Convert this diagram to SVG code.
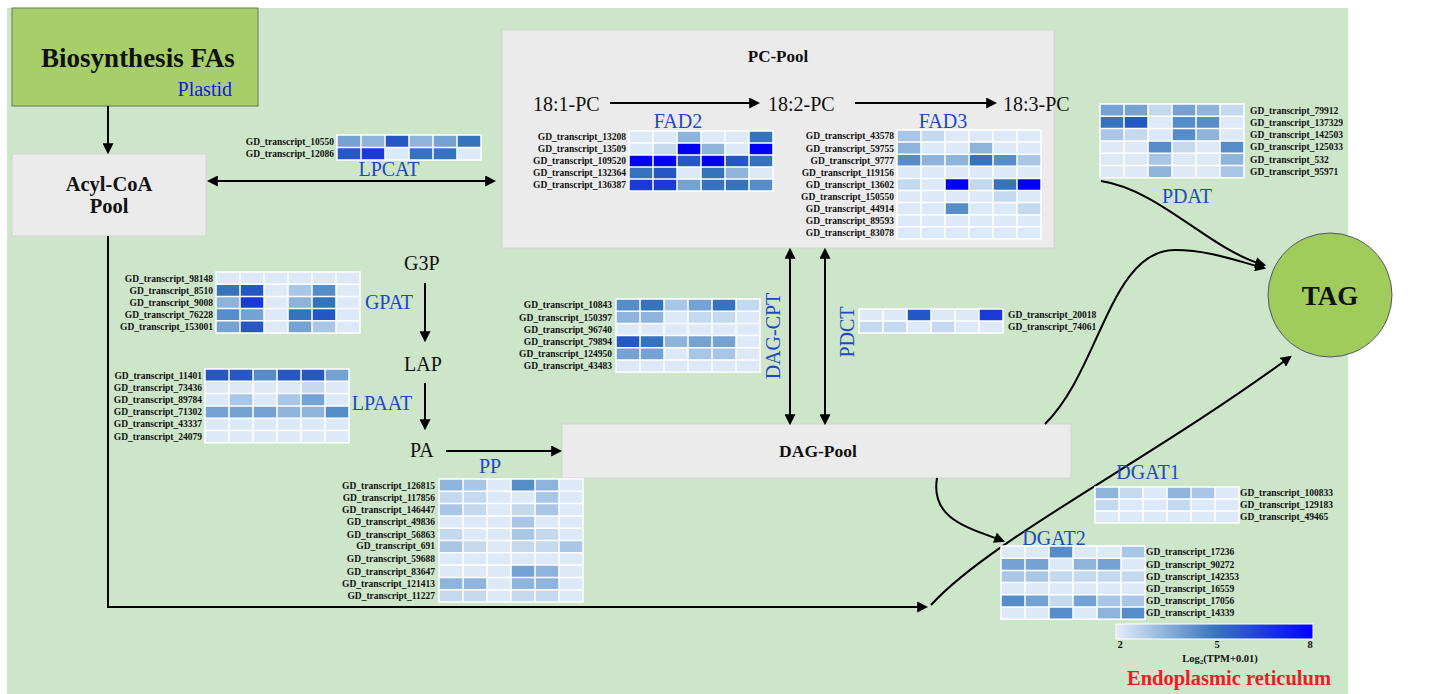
<svg xmlns="http://www.w3.org/2000/svg" width="1442" height="694" viewBox="0 0 1442 694">
<style>
  .lbl{font-family:"Liberation Serif","Times New Roman",serif;font-weight:bold;font-size:9.5px;fill:#111}
  .enz{font-family:"Liberation Serif","Times New Roman",serif;font-size:20px;fill:#1d48c8}
  .met{font-family:"Liberation Serif","Times New Roman",serif;font-size:20px;fill:#111}
  .ttl{font-family:"Liberation Serif","Times New Roman",serif;font-weight:bold;fill:#111}
  .pool{fill:#ebebeb;stroke:#d4d4d4;stroke-width:1}
  .arr{fill:none;stroke:#000;stroke-width:2}
  .grid{fill:none;stroke:#fff;stroke-width:1.5}
  .c0{fill:#dde9f6}.c1{fill:#c4d8ee}.c2{fill:#a9c6e6}.c3{fill:#8fb4dc}.c4{fill:#74a2d3}
  .c5{fill:#568dc8}.c6{fill:#3573bd}.c7{fill:#2558c4}.c8{fill:#1a3ad8}.c9{fill:#0000f5}
</style>
<defs>
  <marker id="ah" viewBox="0 0 10 10" refX="8" refY="5" markerWidth="11" markerHeight="11" markerUnits="userSpaceOnUse" orient="auto-start-reverse">
    <path d="M0,0L10,5L0,10z" fill="#000"/>
  </marker>
  <linearGradient id="scale" x1="0" y1="0" x2="1" y2="0">
    <stop offset="0" stop-color="#e4eef8"/>
    <stop offset="0.5" stop-color="#3a75bf"/>
    <stop offset="1" stop-color="#0000ff"/>
  </linearGradient>
</defs>

<!-- cell compartment -->
<rect x="7" y="8" width="1341" height="686" fill="#cde5c9"/>

<!-- plastid -->
<g id="plastid">
  <rect x="12" y="8" width="246" height="98" fill="#a7cf69" stroke="#66785a" stroke-width="1"/>
  <text class="ttl" x="138" y="67" font-size="27" text-anchor="middle">Biosynthesis FAs</text>
  <text x="232" y="96" font-family="Liberation Serif, serif" font-size="20" fill="#1515f0" text-anchor="end">Plastid</text>
</g>

<g id="acyl-coa">
  <rect class="pool" x="12" y="154" width="194" height="82"/>
  <text class="ttl" x="109" y="191" font-size="20.5" text-anchor="middle">Acyl-CoA</text>
  <text class="ttl" x="109" y="213" font-size="20.5" text-anchor="middle">Pool</text>
</g>

<g id="pc-pool">
  <rect class="pool" x="502" y="30" width="552" height="218"/>
  <text class="ttl" x="778" y="62" font-size="17" text-anchor="middle">PC-Pool</text>
  <text class="met" x="533" y="111">18:1-PC</text>
  <text class="met" x="768" y="111">18:2-PC</text>
  <text class="met" x="1003" y="111">18:3-PC</text>
</g>

<g id="dag-pool">
  <rect class="pool" x="562" y="424" width="509" height="54"/>
  <text class="ttl" x="818" y="457" font-size="17.5" text-anchor="middle">DAG-Pool</text>
</g>

<g id="tag">
  <circle cx="1330" cy="295" r="62" fill="#a0cc5c" stroke="#55556a" stroke-width="1"/>
  <text class="ttl" x="1330" y="305" font-size="27" text-anchor="middle">TAG</text>
</g>

<g id="g3p"><text class="met" x="404" y="270">G3P</text></g>
<g id="lap"><text class="met" x="404" y="371">LAP</text></g>
<g id="pa"><text class="met" x="410" y="457">PA</text></g>

<!-- connectors -->
<g id="connectors">
  <path class="arr" d="M108,106V152" marker-end="url(#ah)"/>
  <path class="arr" d="M209,181H494" marker-start="url(#ah)" marker-end="url(#ah)"/>
  <path class="arr" d="M610,103H758" marker-end="url(#ah)"/>
  <path class="arr" d="M855,103H995" marker-end="url(#ah)"/>
  <path class="arr" d="M425,283V340" marker-end="url(#ah)"/>
  <path class="arr" d="M425,383V428" marker-end="url(#ah)"/>
  <path class="arr" d="M446,451H560" marker-end="url(#ah)"/>
  <path class="arr" d="M790,250V423" marker-start="url(#ah)" marker-end="url(#ah)"/>
  <path class="arr" d="M825,250V423" marker-start="url(#ah)" marker-end="url(#ah)"/>
  <path class="arr" d="M108,236V607H926" marker-end="url(#ah)"/>
  <path class="arr" d="M931,605C990,540 1150,460 1290,357" marker-end="url(#ah)"/>
  <path class="arr" d="M1045,424C1100,370 1110,250 1175,250C1210,250 1240,262 1264,268" marker-end="url(#ah)"/>
  <path class="arr" d="M1101,181C1160,190 1210,250 1264,265" marker-end="url(#ah)"/>
  <path class="arr" d="M937,478C930,520 970,528 1003,541" marker-end="url(#ah)"/>
</g>

<!-- LPCAT -->
<g id="lpcat">
  <text class="enz" x="389" y="176" text-anchor="middle">LPCAT</text>
  <g transform="translate(337,135)">
    <rect class="c0" width="144" height="25"/>
    <rect class="c4" x="0" y="0" width="24" height="12.5"/><rect class="c3" x="24" y="0" width="24" height="12.5"/><rect class="c7" x="48" y="0" width="24" height="12.5"/><rect class="c3" x="72" y="0" width="24" height="12.5"/><rect class="c4" x="96" y="0" width="24" height="12.5"/><rect class="c6" x="120" y="0" width="24" height="12.5"/>
    <rect class="c7" x="0" y="12.5" width="24" height="12.5"/><rect class="c8" x="24" y="12.5" width="24" height="12.5"/><rect class="c6" x="72" y="12.5" width="24" height="12.5"/><rect class="c6" x="96" y="12.5" width="24" height="12.5"/>
    <path class="grid" d="M0,0H144V25H0ZM24,0V25M48,0V25M72,0V25M96,0V25M120,0V25M0,12.5H144"/>
  </g>
  <g class="lbl" text-anchor="end">
    <text x="334" y="144.5">GD_transcript_10550</text>
    <text x="334" y="157">GD_transcript_12086</text>
  </g>
</g>

<!-- FAD2 -->
<g id="fad2">
  <text class="enz" x="678" y="128" text-anchor="middle">FAD2</text>
  <g transform="translate(629,131)">
    <rect class="c0" width="144" height="60"/>
    <rect class="c3" x="48" y="0" width="24" height="12"/><rect class="c6" x="120" y="0" width="24" height="12"/>
    <rect class="c1" x="24" y="12" width="24" height="12"/><rect class="c9" x="48" y="12" width="24" height="12"/><rect class="c3" x="72" y="12" width="24" height="12"/><rect class="c9" x="120" y="12" width="24" height="12"/>
    <rect class="c9" x="0" y="24" width="24" height="12"/><rect class="c9" x="24" y="24" width="24" height="12"/><rect class="c7" x="48" y="24" width="24" height="12"/><rect class="c9" x="72" y="24" width="24" height="12"/><rect class="c7" x="96" y="24" width="24" height="12"/><rect class="c6" x="120" y="24" width="24" height="12"/>
    <rect class="c6" x="0" y="36" width="24" height="12"/><rect class="c7" x="24" y="36" width="24" height="12"/><rect class="c6" x="72" y="36" width="24" height="12"/><rect class="c3" x="96" y="36" width="24" height="12"/>
    <rect class="c8" x="0" y="48" width="24" height="12"/><rect class="c8" x="24" y="48" width="24" height="12"/><rect class="c4" x="48" y="48" width="24" height="12"/><rect class="c6" x="72" y="48" width="24" height="12"/><rect class="c6" x="96" y="48" width="24" height="12"/><rect class="c5" x="120" y="48" width="24" height="12"/>
    <path class="grid" d="M0,0H144V60H0ZM24,0V60M48,0V60M72,0V60M96,0V60M120,0V60M0,12H144M0,24H144M0,36H144M0,48H144"/>
  </g>
  <g class="lbl" text-anchor="end">
    <text x="626" y="140.3">GD_transcript_13208</text>
    <text x="626" y="152.3">GD_transcript_13509</text>
    <text x="626" y="164.3">GD_transcript_109520</text>
    <text x="626" y="176.3">GD_transcript_132364</text>
    <text x="626" y="188.3">GD_transcript_136387</text>
  </g>
</g>

<!-- FAD3 -->
<g id="fad3">
  <text class="enz" x="943" y="128" text-anchor="middle">FAD3</text>
  <g transform="translate(897,130)">
    <rect class="c0" width="144" height="108.9"/>
    <rect class="c2" x="0" y="0" width="24" height="12.1"/><rect class="c1" x="24" y="0" width="24" height="12.1"/>
    <rect class="c3" x="0" y="12.1" width="24" height="12.1"/><rect class="c3" x="72" y="12.1" width="24" height="12.1"/>
    <rect class="c5" x="0" y="24.2" width="24" height="12.1"/><rect class="c3" x="24" y="24.2" width="24" height="12.1"/><rect class="c3" x="48" y="24.2" width="24" height="12.1"/><rect class="c6" x="72" y="24.2" width="24" height="12.1"/><rect class="c5" x="96" y="24.2" width="24" height="12.1"/><rect class="c2" x="120" y="24.2" width="24" height="12.1"/>
    <rect class="c1" x="0" y="48.4" width="24" height="12.1"/><rect class="c9" x="48" y="48.4" width="24" height="12.1"/><rect class="c1" x="72" y="48.4" width="24" height="12.1"/><rect class="c6" x="96" y="48.4" width="24" height="12.1"/><rect class="c9" x="120" y="48.4" width="24" height="12.1"/>
    <rect class="c1" x="96" y="60.5" width="24" height="12.1"/>
    <rect class="c5" x="48" y="72.6" width="24" height="12.1"/><rect class="c1" x="120" y="72.6" width="24" height="12.1"/>
    <path class="grid" d="M0,0H144V108.9H0ZM24,0V108.9M48,0V108.9M72,0V108.9M96,0V108.9M120,0V108.9M0,12.1H144M0,24.2H144M0,36.3H144M0,48.4H144M0,60.5H144M0,72.6H144M0,84.7H144M0,96.8H144"/>
  </g>
  <g class="lbl" text-anchor="end">
    <text x="894" y="139.4">GD_transcript_43578</text>
    <text x="894" y="151.5">GD_transcript_59755</text>
    <text x="894" y="163.6">GD_transcript_9777</text>
    <text x="894" y="175.7">GD_transcript_119156</text>
    <text x="894" y="187.8">GD_transcript_13602</text>
    <text x="894" y="199.9">GD_transcript_150550</text>
    <text x="894" y="212">GD_transcript_44914</text>
    <text x="894" y="224.1">GD_transcript_89593</text>
    <text x="894" y="236.2">GD_transcript_83078</text>
  </g>
</g>

<!-- PDAT -->
<g id="pdat">
  <text class="enz" x="1187" y="203" text-anchor="middle">PDAT</text>
  <g transform="translate(1100,104)">
    <rect class="c0" width="144" height="73.8"/>
    <rect class="c4" x="0" y="0" width="24" height="12.3"/><rect class="c4" x="24" y="0" width="24" height="12.3"/><rect class="c1" x="48" y="0" width="24" height="12.3"/><rect class="c4" x="72" y="0" width="24" height="12.3"/><rect class="c3" x="96" y="0" width="24" height="12.3"/><rect class="c1" x="120" y="0" width="24" height="12.3"/>
    <rect class="c6" x="0" y="12.3" width="24" height="12.3"/><rect class="c7" x="24" y="12.3" width="24" height="12.3"/><rect class="c5" x="72" y="12.3" width="24" height="12.3"/><rect class="c5" x="96" y="12.3" width="24" height="12.3"/>
    <rect class="c2" x="0" y="24.6" width="24" height="12.3"/><rect class="c1" x="24" y="24.6" width="24" height="12.3"/><rect class="c5" x="72" y="24.6" width="24" height="12.3"/><rect class="c3" x="96" y="24.6" width="24" height="12.3"/>
    <rect class="c5" x="48" y="36.9" width="24" height="12.3"/><rect class="c1" x="72" y="36.9" width="24" height="12.3"/><rect class="c5" x="120" y="36.9" width="24" height="12.3"/>
    <rect class="c2" x="48" y="49.2" width="24" height="12.3"/><rect class="c3" x="120" y="49.2" width="24" height="12.3"/>
    <rect class="c3" x="48" y="61.5" width="24" height="12.3"/><rect class="c2" x="120" y="61.5" width="24" height="12.3"/>
    <path class="grid" d="M0,0H144V73.8H0ZM24,0V73.8M48,0V73.8M72,0V73.8M96,0V73.8M120,0V73.8M0,12.3H144M0,24.6H144M0,36.9H144M0,49.2H144M0,61.5H144"/>
  </g>
  <g class="lbl">
    <text x="1250" y="113.5">GD_transcript_79912</text>
    <text x="1250" y="125.8">GD_transcript_137329</text>
    <text x="1250" y="138.1">GD_transcript_142503</text>
    <text x="1250" y="150.4">GD_transcript_125033</text>
    <text x="1250" y="162.7">GD_transcript_532</text>
    <text x="1250" y="175">GD_transcript_95971</text>
  </g>
</g>

<!-- GPAT -->
<g id="gpat">
  <text class="enz" x="389" y="309" text-anchor="middle">GPAT</text>
  <g transform="translate(216,272)">
    <rect class="c0" width="144" height="61"/>
    <rect class="c6" x="0" y="12.2" width="24" height="12.2"/><rect class="c7" x="24" y="12.2" width="24" height="12.2"/><rect class="c2" x="72" y="12.2" width="24" height="12.2"/><rect class="c5" x="96" y="12.2" width="24" height="12.2"/>
    <rect class="c3" x="0" y="24.4" width="24" height="12.2"/><rect class="c8" x="24" y="24.4" width="24" height="12.2"/><rect class="c3" x="72" y="24.4" width="24" height="12.2"/><rect class="c6" x="96" y="24.4" width="24" height="12.2"/>
    <rect class="c5" x="0" y="36.6" width="24" height="12.2"/><rect class="c4" x="24" y="36.6" width="24" height="12.2"/><rect class="c6" x="72" y="36.6" width="24" height="12.2"/><rect class="c7" x="96" y="36.6" width="24" height="12.2"/>
    <rect class="c4" x="0" y="48.8" width="24" height="12.2"/><rect class="c7" x="24" y="48.8" width="24" height="12.2"/><rect class="c4" x="72" y="48.8" width="24" height="12.2"/><rect class="c2" x="96" y="48.8" width="24" height="12.2"/>
    <path class="grid" d="M0,0H144V61H0ZM24,0V61M48,0V61M72,0V61M96,0V61M120,0V61M0,12.2H144M0,24.4H144M0,36.6H144M0,48.8H144"/>
  </g>
  <g class="lbl" text-anchor="end">
    <text x="213" y="282">GD_transcript_98148</text>
    <text x="213" y="293.6">GD_transcript_8510</text>
    <text x="213" y="305.8">GD_transcript_9008</text>
    <text x="213" y="318">GD_transcript_76228</text>
    <text x="213" y="330.2">GD_transcript_153001</text>
  </g>
</g>

<!-- LPAAT -->
<g id="lpaat">
  <text class="enz" x="382" y="410" text-anchor="middle">LPAAT</text>
  <g transform="translate(205,369)">
    <rect class="c0" width="144" height="73.8"/>
    <rect class="c7" x="0" y="0" width="24" height="12.3"/><rect class="c7" x="24" y="0" width="24" height="12.3"/><rect class="c5" x="48" y="0" width="24" height="12.3"/><rect class="c7" x="72" y="0" width="24" height="12.3"/><rect class="c7" x="96" y="0" width="24" height="12.3"/><rect class="c4" x="120" y="0" width="24" height="12.3"/>
    <rect class="c1" x="96" y="12.3" width="24" height="12.3"/>
    <rect class="c2" x="24" y="24.6" width="24" height="12.3"/><rect class="c2" x="72" y="24.6" width="24" height="12.3"/><rect class="c4" x="96" y="24.6" width="24" height="12.3"/>
    <rect class="c4" x="0" y="36.9" width="24" height="12.3"/><rect class="c4" x="24" y="36.9" width="24" height="12.3"/><rect class="c4" x="48" y="36.9" width="24" height="12.3"/><rect class="c3" x="72" y="36.9" width="24" height="12.3"/><rect class="c3" x="96" y="36.9" width="24" height="12.3"/><rect class="c5" x="120" y="36.9" width="24" height="12.3"/>
    <path class="grid" d="M0,0H144V73.8H0ZM24,0V73.8M48,0V73.8M72,0V73.8M96,0V73.8M120,0V73.8M0,12.3H144M0,24.6H144M0,36.9H144M0,49.2H144M0,61.5H144"/>
  </g>
  <g class="lbl" text-anchor="end">
    <text x="202" y="378.5">GD_transcript_11401</text>
    <text x="202" y="390.8">GD_transcript_73436</text>
    <text x="202" y="402.5">GD_transcript_89784</text>
    <text x="202" y="415.4">GD_transcript_71302</text>
    <text x="202" y="426.5">GD_transcript_43337</text>
    <text x="202" y="440">GD_transcript_24079</text>
  </g>
</g>

<!-- DAG-CPT -->
<g id="dag-cpt">
  <text class="enz" x="0" y="0" font-size="19" text-anchor="middle" transform="translate(780,336) rotate(-90)">DAG-CPT</text>
  <g transform="translate(616,299)">
    <rect class="c0" width="144" height="73.2"/>
    <rect class="c5" x="0" y="0" width="24" height="12.2"/><rect class="c6" x="24" y="0" width="24" height="12.2"/><rect class="c2" x="48" y="0" width="24" height="12.2"/><rect class="c4" x="72" y="0" width="24" height="12.2"/><rect class="c6" x="96" y="0" width="24" height="12.2"/><rect class="c1" x="120" y="0" width="24" height="12.2"/>
    <rect class="c3" x="0" y="12.2" width="24" height="12.2"/><rect class="c3" x="24" y="12.2" width="24" height="12.2"/><rect class="c1" x="72" y="12.2" width="24" height="12.2"/><rect class="c1" x="96" y="12.2" width="24" height="12.2"/>
    <rect class="c7" x="0" y="36.6" width="24" height="12.2"/><rect class="c6" x="24" y="36.6" width="24" height="12.2"/><rect class="c3" x="48" y="36.6" width="24" height="12.2"/><rect class="c4" x="72" y="36.6" width="24" height="12.2"/><rect class="c4" x="96" y="36.6" width="24" height="12.2"/>
    <rect class="c4" x="0" y="48.8" width="24" height="12.2"/><rect class="c4" x="24" y="48.8" width="24" height="12.2"/><rect class="c2" x="72" y="48.8" width="24" height="12.2"/><rect class="c2" x="96" y="48.8" width="24" height="12.2"/>
    <path class="grid" d="M0,0H144V73.2H0ZM24,0V73.2M48,0V73.2M72,0V73.2M96,0V73.2M120,0V73.2M0,12.2H144M0,24.4H144M0,36.6H144M0,48.8H144M0,61H144"/>
  </g>
  <g class="lbl" text-anchor="end">
    <text x="612" y="308.4">GD_transcript_10843</text>
    <text x="612" y="320.6">GD_transcript_150397</text>
    <text x="612" y="332.8">GD_transcript_96740</text>
    <text x="612" y="345">GD_transcript_79894</text>
    <text x="612" y="357.2">GD_transcript_124950</text>
    <text x="612" y="369.4">GD_transcript_43483</text>
  </g>
</g>

<!-- PDCT -->
<g id="pdct">
  <text class="enz" x="0" y="0" font-size="21" text-anchor="middle" transform="translate(854,332) rotate(-90)">PDCT</text>
  <g transform="translate(859,309)">
    <rect class="c0" width="144" height="24"/>
    <rect class="c7" x="48" y="0" width="24" height="12"/><rect class="c8" x="120" y="0" width="24" height="12"/>
    <rect class="c1" x="0" y="12" width="24" height="12"/><rect class="c1" x="24" y="12" width="24" height="12"/><rect class="c1" x="72" y="12" width="24" height="12"/>
    <path class="grid" d="M0,0H144V24H0ZM24,0V24M48,0V24M72,0V24M96,0V24M120,0V24M0,12H144"/>
  </g>
  <g class="lbl">
    <text x="1008" y="318.3">GD_transcript_20018</text>
    <text x="1008" y="330.3">GD_transcript_74061</text>
  </g>
</g>

<!-- PP -->
<g id="pp">
  <text class="enz" x="490" y="473" text-anchor="middle">PP</text>
  <g transform="translate(439,479)">
    <rect class="c0" width="144" height="123"/>
    <rect class="c3" x="0" y="0" width="24" height="12.3"/><rect class="c2" x="24" y="0" width="24" height="12.3"/><rect class="c5" x="72" y="0" width="24" height="12.3"/><rect class="c3" x="96" y="0" width="24" height="12.3"/>
    <rect class="c1" x="0" y="12.3" width="24" height="12.3"/><rect class="c1" x="24" y="12.3" width="24" height="12.3"/><rect class="c2" x="96" y="12.3" width="24" height="12.3"/>
    <rect class="c2" x="0" y="24.6" width="24" height="12.3"/><rect class="c1" x="24" y="24.6" width="24" height="12.3"/><rect class="c1" x="72" y="24.6" width="24" height="12.3"/><rect class="c2" x="96" y="24.6" width="24" height="12.3"/>
    <rect class="c2" x="72" y="36.9" width="24" height="12.3"/>
    <rect class="c1" x="0" y="49.2" width="24" height="12.3"/><rect class="c2" x="72" y="49.2" width="24" height="12.3"/><rect class="c1" x="96" y="49.2" width="24" height="12.3"/>
    <rect class="c2" x="0" y="61.5" width="24" height="12.3"/><rect class="c1" x="24" y="61.5" width="24" height="12.3"/><rect class="c1" x="72" y="61.5" width="24" height="12.3"/><rect class="c1" x="96" y="61.5" width="24" height="12.3"/><rect class="c2" x="120" y="61.5" width="24" height="12.3"/>
    <rect class="c4" x="72" y="86.1" width="24" height="12.3"/><rect class="c3" x="96" y="86.1" width="24" height="12.3"/>
    <rect class="c3" x="0" y="98.4" width="24" height="12.3"/><rect class="c3" x="24" y="98.4" width="24" height="12.3"/><rect class="c3" x="72" y="98.4" width="24" height="12.3"/><rect class="c3" x="96" y="98.4" width="24" height="12.3"/>
    <rect class="c1" x="0" y="110.7" width="24" height="12.3"/><rect class="c1" x="24" y="110.7" width="24" height="12.3"/><rect class="c1" x="72" y="110.7" width="24" height="12.3"/><rect class="c1" x="96" y="110.7" width="24" height="12.3"/>
    <path class="grid" d="M0,0H144V123H0ZM24,0V123M48,0V123M72,0V123M96,0V123M120,0V123M0,12.3H144M0,24.6H144M0,36.9H144M0,49.2H144M0,61.5H144M0,73.8H144M0,86.1H144M0,98.4H144M0,110.7H144"/>
  </g>
  <g class="lbl" text-anchor="end">
    <text x="435" y="488.5">GD_transcript_126815</text>
    <text x="435" y="500.8">GD_transcript_117856</text>
    <text x="435" y="513">GD_transcript_146447</text>
    <text x="435" y="524.5">GD_transcript_49836</text>
    <text x="435" y="537.6">GD_transcript_56863</text>
    <text x="435" y="549">GD_transcript_691</text>
    <text x="435" y="562.2">GD_transcript_59688</text>
    <text x="435" y="574.5">GD_transcript_83647</text>
    <text x="435" y="586.8">GD_transcript_121413</text>
    <text x="435" y="599.1">GD_transcript_11227</text>
  </g>
</g>

<!-- DGAT1 -->
<g id="dgat1">
  <text class="enz" x="1148" y="479" text-anchor="middle">DGAT1</text>
  <g transform="translate(1095,487)">
    <rect class="c0" width="144" height="36"/>
    <rect class="c3" x="0" y="0" width="24" height="12"/><rect class="c1" x="24" y="0" width="24" height="12"/><rect class="c3" x="72" y="0" width="24" height="12"/><rect class="c2" x="96" y="0" width="24" height="12"/>
    <rect class="c1" x="0" y="12" width="24" height="12"/><rect class="c1" x="72" y="12" width="24" height="12"/>
    <path class="grid" d="M0,0H144V36H0ZM24,0V36M48,0V36M72,0V36M96,0V36M120,0V36M0,12H144M0,24H144"/>
  </g>
  <g class="lbl">
    <text x="1240" y="496.3">GD_transcript_100833</text>
    <text x="1240" y="508.3">GD_transcript_129183</text>
    <text x="1240" y="520.3">GD_transcript_49465</text>
  </g>
</g>

<!-- DGAT2 -->
<g id="dgat2">
  <text class="enz" x="1054" y="545" text-anchor="middle">DGAT2</text>
  <g transform="translate(1001,546)">
    <rect class="c0" width="144" height="73.2"/>
    <rect class="c5" x="48" y="0" width="24" height="12.2"/><rect class="c2" x="120" y="0" width="24" height="12.2"/>
    <rect class="c4" x="0" y="12.2" width="24" height="12.2"/><rect class="c4" x="24" y="12.2" width="24" height="12.2"/><rect class="c3" x="72" y="12.2" width="24" height="12.2"/><rect class="c4" x="96" y="12.2" width="24" height="12.2"/>
    <rect class="c2" x="0" y="24.4" width="24" height="12.2"/><rect class="c2" x="24" y="24.4" width="24" height="12.2"/><rect class="c1" x="48" y="24.4" width="24" height="12.2"/><rect class="c1" x="72" y="24.4" width="24" height="12.2"/><rect class="c1" x="96" y="24.4" width="24" height="12.2"/><rect class="c1" x="120" y="24.4" width="24" height="12.2"/>
    <rect class="c5" x="0" y="48.8" width="24" height="12.2"/><rect class="c4" x="24" y="48.8" width="24" height="12.2"/><rect class="c1" x="48" y="48.8" width="24" height="12.2"/><rect class="c4" x="72" y="48.8" width="24" height="12.2"/><rect class="c2" x="96" y="48.8" width="24" height="12.2"/><rect class="c2" x="120" y="48.8" width="24" height="12.2"/>
    <rect class="c5" x="48" y="61" width="24" height="12.2"/><rect class="c3" x="96" y="61" width="24" height="12.2"/><rect class="c5" x="120" y="61" width="24" height="12.2"/>
    <path class="grid" d="M0,0H144V73.2H0ZM24,0V73.2M48,0V73.2M72,0V73.2M96,0V73.2M120,0V73.2M0,12.2H144M0,24.4H144M0,36.6H144M0,48.8H144M0,61H144"/>
  </g>
  <g class="lbl">
    <text x="1146" y="555.4">GD_transcript_17236</text>
    <text x="1146" y="567.6">GD_transcript_90272</text>
    <text x="1146" y="579.8">GD_transcript_142353</text>
    <text x="1146" y="592">GD_transcript_16559</text>
    <text x="1146" y="604.2">GD_transcript_17056</text>
    <text x="1146" y="616.4">GD_transcript_14339</text>
  </g>
</g>

<!-- colour scale -->
<g id="legend">
  <rect x="1116" y="624" width="197" height="15" fill="url(#scale)" stroke="#fff" stroke-width="1"/>
  <g class="lbl" text-anchor="middle">
    <text x="1120" y="648" style="font-size:10.5px">2</text>
    <text x="1217" y="648" style="font-size:10.5px">5</text>
    <text x="1310" y="648" style="font-size:10.5px">8</text>
    <text x="1220" y="662" style="font-size:10.5px">Log<tspan font-size="7" dy="2">2</tspan><tspan dy="-2">(TPM+0.01)</tspan></text>
  </g>
</g>

<g id="er-label">
  <text class="ttl" x="1229" y="685" font-size="20.5" text-anchor="middle" style="fill:#ee1c24">Endoplasmic reticulum</text>
</g>
</svg>
